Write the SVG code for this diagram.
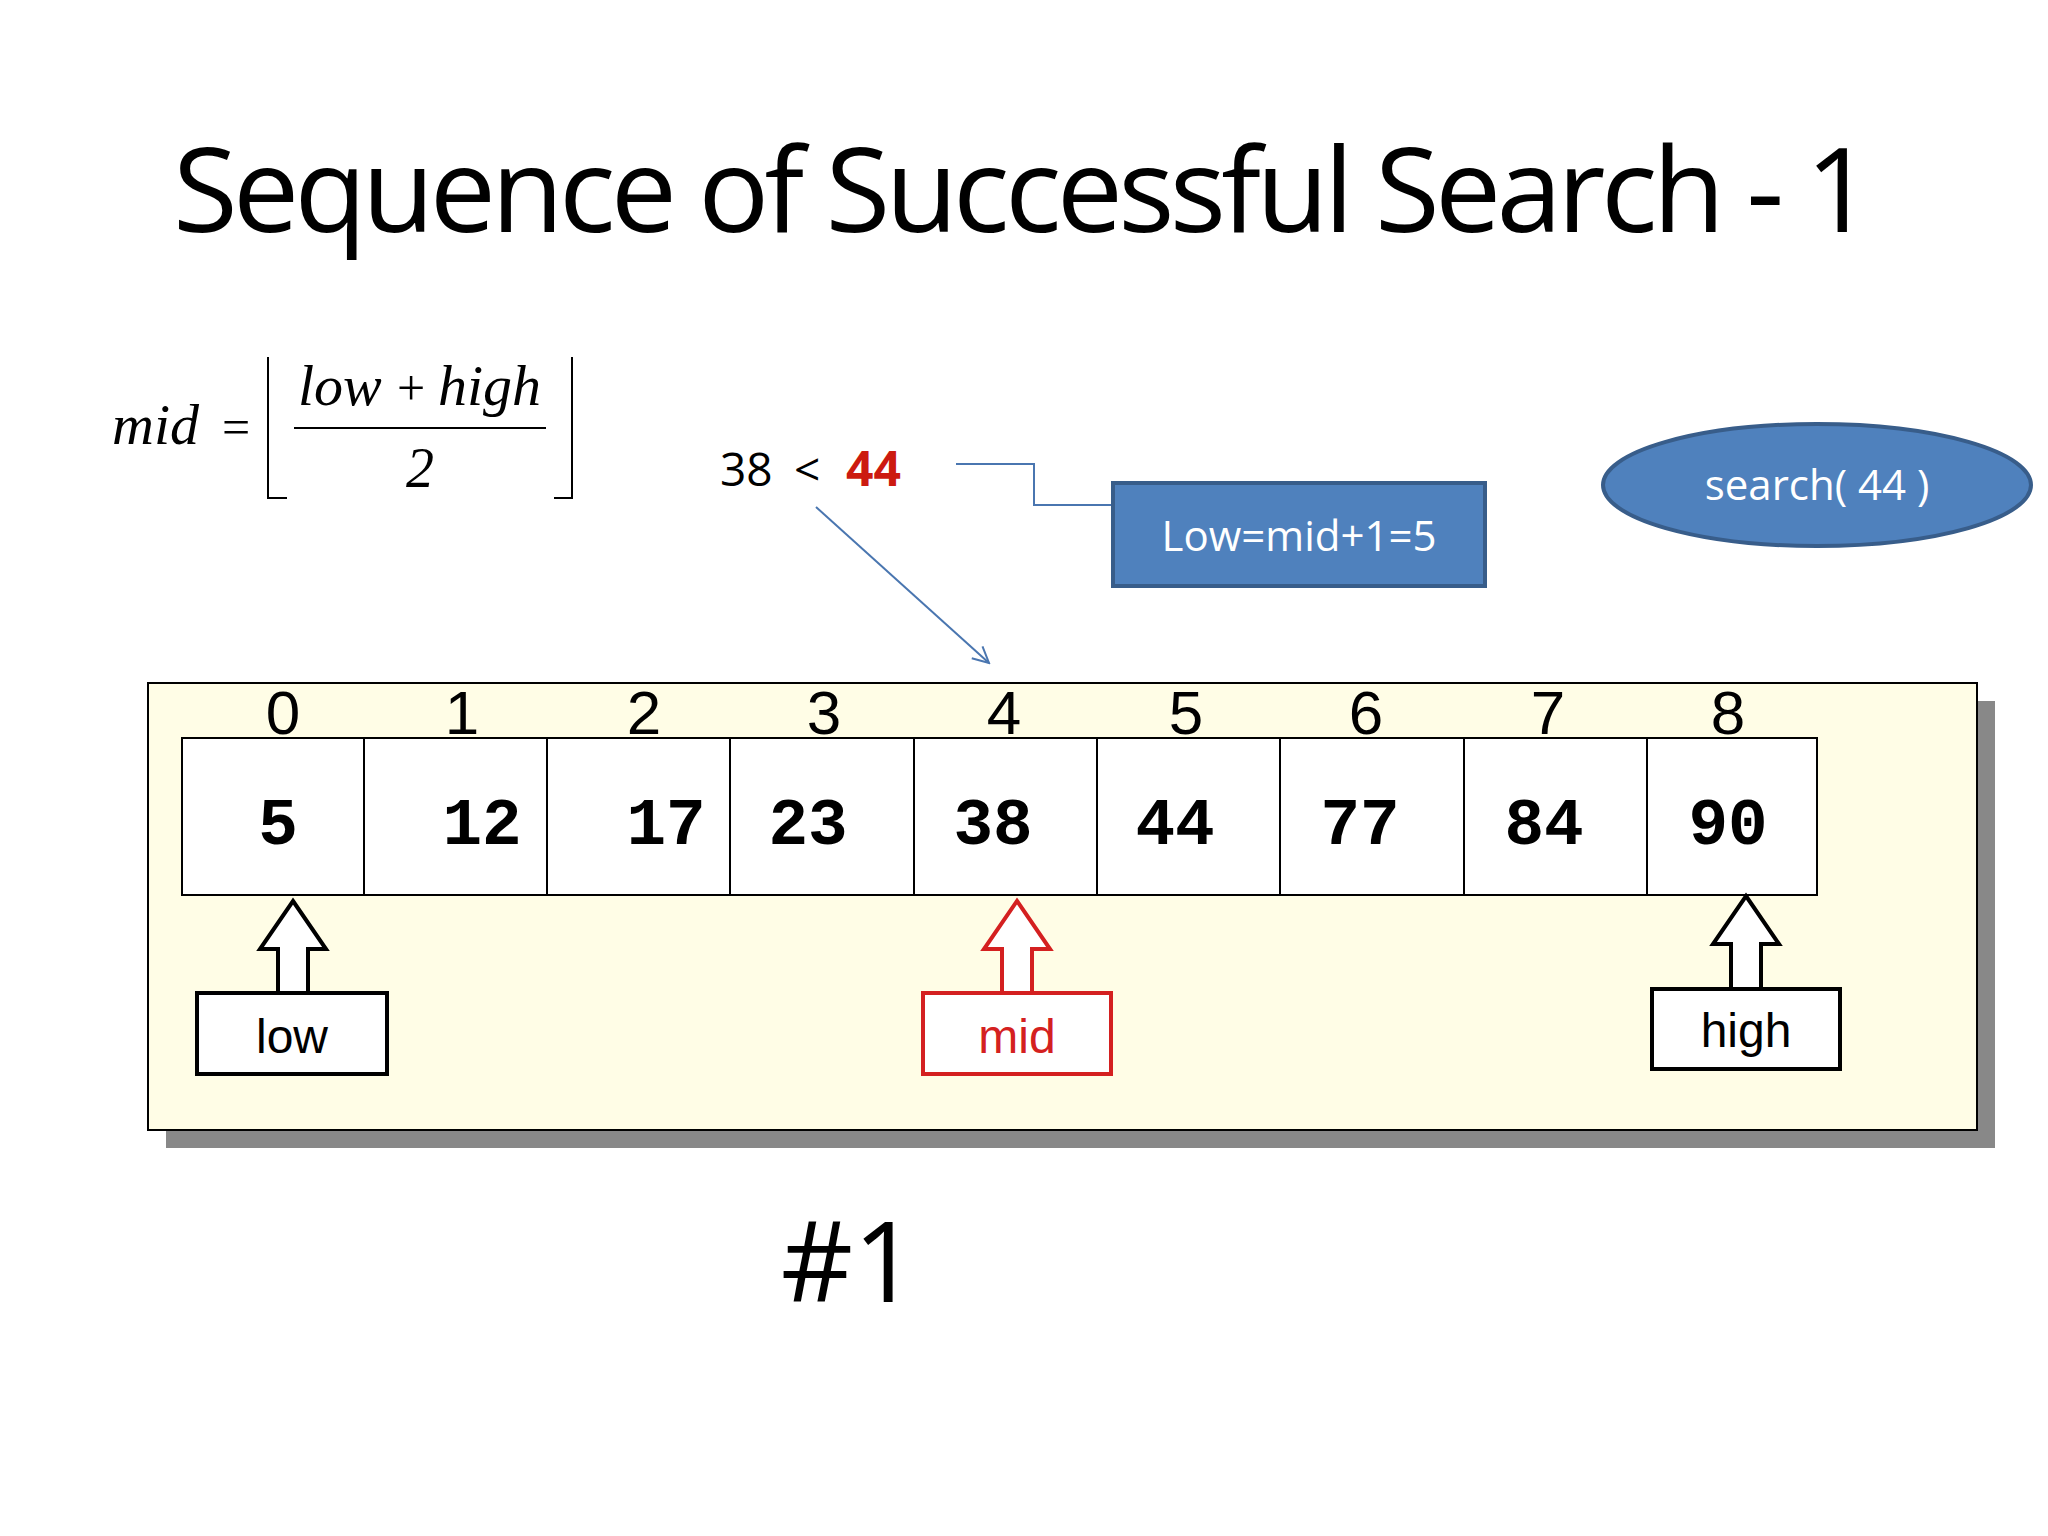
<svg xmlns="http://www.w3.org/2000/svg" width="2048" height="1536" viewBox="0 0 2048 1536">
<defs>
<style>
.s{font-family:"Liberation Sans",Arial,sans-serif}
.c{font-family:"Open Sans","Liberation Sans",sans-serif}
.m{font-family:"Liberation Serif","Times New Roman",serif;font-style:italic}
.n{font-family:"Liberation Mono","Courier New",monospace;font-weight:bold;font-size:66px;text-anchor:middle}
.i{font-family:"Liberation Sans",Arial,sans-serif;font-size:62px;text-anchor:middle}
.cell{fill:#fff;stroke:#000;stroke-width:2}
.ba{fill:#fff;stroke:#000;stroke-width:4}
.red{stroke:#d42020}
</style>
<marker id="ah" markerWidth="20" markerHeight="20" refX="18" refY="10" orient="auto" markerUnits="userSpaceOnUse"><path d="M2,2 L18,10 L2,18" fill="none" stroke="#4a76b0" stroke-width="2"/></marker>
</defs>
<rect width="2048" height="1536" fill="#fff"/>
<text class="c" x="1023" y="232" font-size="118" text-anchor="middle" textLength="1700">Sequence of Successful Search - 1</text>
<g id="formula">
<text class="m" x="112" y="444" font-size="58">mid</text>
<text x="222" y="444" font-size="50" font-family="Liberation Serif,serif">=</text>
<text class="m" x="298" y="405" font-size="58">low</text>
<text x="397" y="405" font-size="50" font-family="Liberation Serif,serif">+</text>
<text class="m" x="438" y="405" font-size="58">high</text>
<line x1="294" y1="428" x2="546" y2="428" stroke="#000" stroke-width="2"/>
<text x="420" y="487" font-size="56" font-family="Liberation Serif,serif" font-style="italic" text-anchor="middle">2</text>
<path d="M268,357 V498 H287 M572,357 V498 H554" fill="none" stroke="#000" stroke-width="2"/>
</g>
<g id="compare">
<text class="c" x="720" y="486" font-size="46">38</text>
<text class="c" x="794" y="486" font-size="46">&lt;</text>
<text class="c" x="846" y="486" font-size="48" fill="#cc1a10" font-weight="bold">44</text>
</g>
<g id="connectors" fill="none" stroke="#4a76b0" stroke-width="2">
<path d="M956,464 H1034 V505 H1111"/>
<line x1="816" y1="507" x2="989" y2="663" marker-end="url(#ah)"/>
</g>
<g id="lowbox">
<rect x="1113" y="483" width="372" height="103" fill="#4f81bd" stroke="#385d8a" stroke-width="4"/>
<text class="c" x="1299" y="551" font-size="42" fill="#fff" text-anchor="middle">Low=mid+1=5</text>
</g>
<g id="search">
<ellipse cx="1817" cy="485" rx="214" ry="61" fill="#4f81bd" stroke="#385d8a" stroke-width="4"/>
<text class="c" x="1817" y="500" font-size="42" fill="#fff" text-anchor="middle">search( 44 )</text>
</g>
<g id="panel">
<rect x="166" y="701" width="1829" height="447" fill="#888"/>
<rect x="148" y="683" width="1829" height="447" fill="#fffde6" stroke="#000" stroke-width="2"/>
</g>
<g id="array">
<rect class="cell" x="182" y="738" width="182" height="157"/>
<rect class="cell" x="364" y="738" width="183" height="157"/>
<rect class="cell" x="547" y="738" width="183" height="157"/>
<rect class="cell" x="730" y="738" width="184" height="157"/>
<rect class="cell" x="914" y="738" width="183" height="157"/>
<rect class="cell" x="1097" y="738" width="183" height="157"/>
<rect class="cell" x="1280" y="738" width="184" height="157"/>
<rect class="cell" x="1464" y="738" width="183" height="157"/>
<rect class="cell" x="1647" y="738" width="170" height="157"/>
<text class="n" x="278" y="844">5</text>
<text class="n" x="482" y="844">12</text>
<text class="n" x="666" y="844">17</text>
<text class="n" x="808" y="844">23</text>
<text class="n" x="993" y="844">38</text>
<text class="n" x="1175" y="844">44</text>
<text class="n" x="1360" y="844">77</text>
<text class="n" x="1544" y="844">84</text>
<text class="n" x="1728" y="844">90</text>
<text class="i" x="283" y="734">0</text>
<text class="i" x="462" y="734">1</text>
<text class="i" x="644" y="734">2</text>
<text class="i" x="824" y="734">3</text>
<text class="i" x="1004" y="734">4</text>
<text class="i" x="1186" y="734">5</text>
<text class="i" x="1366" y="734">6</text>
<text class="i" x="1548" y="734">7</text>
<text class="i" x="1728" y="734">8</text>
</g>
<g id="low">
<path class="ba" d="M293,901 L326,949 L308,949 L308,993 L278,993 L278,949 L260,949 Z"/>
<rect class="ba" x="197" y="993" width="190" height="81"/>
<text class="s" x="292" y="1053" font-size="48" text-anchor="middle">low</text>
</g>
<g id="mid">
<path class="ba red" d="M1017,901 L1050,949 L1032,949 L1032,993 L1002,993 L1002,949 L984,949 Z"/>
<rect class="ba red" x="923" y="993" width="188" height="81"/>
<text class="s" x="1017" y="1053" font-size="48" fill="#d42020" text-anchor="middle">mid</text>
</g>
<g id="high">
<path class="ba" d="M1746,896 L1779,944 L1761,944 L1761,989 L1731,989 L1731,944 L1713,944 Z"/>
<rect class="ba" x="1652" y="989" width="188" height="80"/>
<text class="s" x="1746" y="1047" font-size="48" text-anchor="middle">high</text>
</g>
<text class="c" x="849" y="1302" font-size="112" text-anchor="middle">#1</text>
</svg>
